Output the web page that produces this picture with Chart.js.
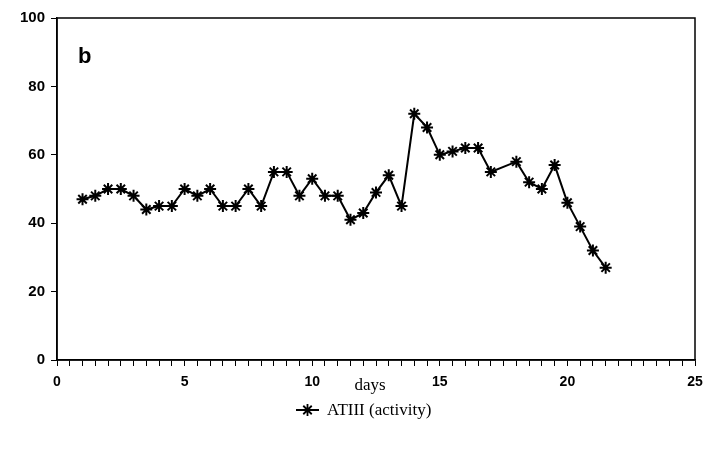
<!DOCTYPE html>
<html>
<head>
<meta charset="utf-8">
<script src="https://cdn.jsdelivr.net/npm/chart.js@4"></script>
<style>
  html, body { margin: 0; padding: 0; background: #fff; }
  #wrap { width: 706px; height: 450px; }
</style>
</head>
<body>
<div id="wrap"><canvas id="atChart" width="706" height="450"></canvas></div>
<script>
"use strict"

// day of measurement and ATIII activity (%)
const days = [1, 1.5, 2, 2.5, 3, 3.5, 4, 4.5, 5, 5.5, 6, 6.5, 7, 7.5, 8, 8.5, 9, 9.5, 10, 10.5,
  11, 11.5, 12, 12.5, 13, 13.5, 14, 14.5, 15, 15.5, 16, 16.5, 17, 18, 18.5, 19, 19.5, 20, 20.5, 21, 21.5];
const activity = [47, 48, 50, 50, 48, 44, 45, 45, 50, 48, 50, 45, 45, 50, 45, 55, 55, 48, 53, 48,
  48, 41, 43, 49, 54, 45, 72, 68, 60, 61, 62, 62, 55, 58, 52, 50, 57, 46, 39, 32, 27];
const seriesName = 'ATIII (activity)';
const xLabelEvery = 5;
const panelLetter = 'b';
const xTitle = 'days';

const sans = '"Liberation Sans", Arial, sans-serif';
const serif = '"Liberation Serif", "Times New Roman", serif';

// frame, panel letter, axis title and legend
const decorations = {
  id: 'decorations',
  afterDraw(chart) {
    const ctx = chart.ctx;
    const a = chart.chartArea;
    ctx.save();
    ctx.strokeStyle = '#000';
    ctx.lineWidth = 1.5;
    ctx.strokeRect(a.left, a.top, a.right - a.left, a.bottom - a.top);

    ctx.fillStyle = '#000';
    ctx.font = 'bold 22px ' + sans;
    ctx.textBaseline = 'alphabetic';
    ctx.textAlign = 'left';
    ctx.fillText(panelLetter, a.left + 21, a.top + 45);

    ctx.font = '17px ' + serif;
    ctx.textAlign = 'center';
    ctx.fillText(xTitle, 370, a.bottom + 30);

    // legend entry
    const ly = 410;
    const lx = 296;
    ctx.lineWidth = 2;
    ctx.beginPath();
    ctx.moveTo(lx, ly);
    ctx.lineTo(lx + 23, ly);
    ctx.stroke();
    ctx.lineWidth = 1.8;
    const r = 6, cx = lx + 11.5;
    ctx.beginPath();
    for (let k = 0; k < 4; k++) {
      const ang = k * Math.PI / 4;
      ctx.moveTo(cx - r * Math.cos(ang), ly - r * Math.sin(ang));
      ctx.lineTo(cx + r * Math.cos(ang), ly + r * Math.sin(ang));
    }
    ctx.stroke();
    ctx.textAlign = 'left';
    ctx.textBaseline = 'middle';
    ctx.fillText(seriesName, lx + 31, ly + 1);
    ctx.restore();
  }
};

const ctxL = document.getElementById('atChart').getContext('2d');
const atChart = new Chart(ctxL, {
  type: 'line',
  data: {
    datasets: [{
      label: seriesName,
      data: days.map((d, i) => ({ x: d, y: activity[i] })),
      borderColor: '#000',
      borderWidth: 2,
      pointStyle: 'star',
      pointRadius: 6,
      pointBorderWidth: 2,
      pointBorderColor: '#000',
      pointBackgroundColor: '#000',
      tension: 0
    }]
  },
  plugins: [decorations],
  options: {
    responsive: false,
    animation: false,
    layout: { padding: { left: 0, right: 11, top: 18, bottom: 0 } },
    plugins: {
      legend: { display: false },
      tooltip: { enabled: false }
    },
    scales: {
      x: {
        type: 'linear',
        min: 0,
        max: 25,
        afterFit: s => { s.height = 90; s.paddingLeft = 0; s.paddingRight = 0; },
        ticks: {
          stepSize: 0.5,
          autoSkip: false,
          maxRotation: 0,
          padding: 8,
          color: '#000',
          font: { family: sans, size: 14, weight: 'bold' },
          callback: v => (v % xLabelEvery === 0 ? String(v) : '')
        },
        grid: {
          drawOnChartArea: false,
          tickLength: 6,
          tickWidth: 1,
          tickColor: '#000'
        },
        border: { color: '#000', width: 1.5 }
      },
      y: {
        min: 0,
        max: 100,
        afterFit: s => { s.width = 57; s.paddingTop = 0; s.paddingBottom = 0; },
        ticks: {
          stepSize: 20,
          padding: 6,
          color: '#000',
          font: { family: sans, size: 15, weight: 'bold' }
        },
        grid: {
          drawOnChartArea: false,
          tickLength: 6,
          tickWidth: 1,
          tickColor: '#000'
        },
        border: { color: '#000', width: 1.5 }
      }
    }
  }
});
</script>
</body>
</html>
